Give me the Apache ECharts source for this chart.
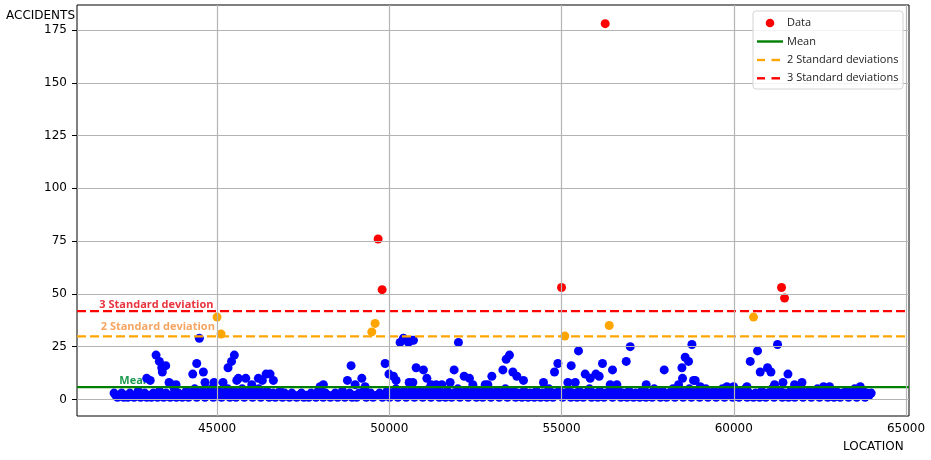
<!DOCTYPE html>
<html><head><meta charset="utf-8">
<script src="https://cdn.jsdelivr.net/npm/echarts@6/dist/echarts.min.js"></script>
<style>html,body{margin:0;padding:0;background:#fff}#c{width:931px;height:460px}</style>
</head><body><div id="c"></div>
<script>
// ---- axis settings ----
const xTicks = [45000, 50000, 55000, 60000, 65000];
const yTicks = [0, 25, 50, 75, 100, 125, 150, 175];
const xRange = [40934, 65087];
const yRange = [-7.85, 186.85];

// ---- statistics ----
const meanValue = 5.85;
const twoSD = 29.85;
const threeSD = 41.85;

// ---- data: [LOCATION, ACCIDENTS] ----
const redPoints = [[49675,76],[49792,52],[55000,53],[56268,178],[61387,53],[61474,48]];
const orangePoints = [[45000,39],[45116,31],[49492,32],[49588,36],[55097,30],[56384,35],[60574,39]];
const blueHigh = [
[44486,29],[43229,21],[43324,18],[43394,15],[43510,16],[43411,13],[44410,17],[44294,12],[44602,13],
[45502,21],[45421,18],[45319,15],[42958,10],[43060,9],[43606,8],[43685,7],[43809,7],[44651,8],[44913,8],
[45174,8],[45619,10],[45572,9],[45833,10],[46008,7],[46199,10],[46315,9],[46423,12],[46539,12],[46635,9],
[47991,6],[48087,7],[48784,9],[48891,16],[49008,7],[49202,10],[49298,6],[49879,17],[49990,12],[50120,11],
[50198,9],[50314,27],[50410,29],[50555,27],[50630,28],[50701,28],[50576,8],[50683,8],[50779,15],[50991,14],
[51090,10],[51214,7],[51360,7],[51525,7],[51766,8],[51882,14],[52007,27],[52173,11],[52327,10],[52425,7],
[52783,7],[52861,7],[52977,11],[53297,14],[53393,19],[53489,21],[53587,13],[53703,11],[53895,9],[54476,8],
[54796,13],[54894,17],[55184,8],[55281,16],[55397,8],[55492,23],[55687,12],[55832,10],[55997,12],[56093,11],
[56189,17],[56413,7],[56480,14],[56607,7],[56878,18],[56994,25],[57458,7],[57981,14],[58397,7],[58495,15],
[58512,10],[58590,20],[58687,18],[58785,26],[58832,9],[58881,9],[59026,6],[59802,6],[59995,6],[60383,6],
[60478,18],[60690,23],[60768,13],[60980,15],[61079,13],[61184,7],[61271,26],[61428,8],[61573,12],[61765,7],
[61980,8],[62607,6],[62782,6],[63673,6]
];
const blueLow = [
[42010,3],[42060,2],[42110,1],[42170,2],[42230,3],[42290,1],[42350,2],[42410,1],[42470,3],[42530,2],[42590,1],[42650,2],[42710,4],[42780,1],[42840,2],[42900,3],[42960,1],
[43030,2],[43090,1],[43150,3],[43210,2],[43270,1],[43330,4],[43390,2],[43450,1],[43520,3],[43580,2],[43640,1],[43700,2],[43760,5],[43820,1],[43880,3],[43940,2],[43990,1],
[44050,2],[44110,4],[44170,1],[44230,3],[44290,2],[44350,5],[44410,1],[44470,3],[44530,2],[44590,4],[44650,1],[44710,3],[44770,2],[44830,5],[44890,1],[44950,3],
[45010,2],[45070,4],[45130,1],[45190,3],[45250,2],[45310,5],[45370,1],[45430,2],[45490,4],[45550,1],[45610,3],[45670,2],[45730,5],[45790,1],[45850,3],[45910,2],[45970,4],
[46030,1],[46090,3],[46150,2],[46210,5],[46270,1],[46330,3],[46390,2],[46450,4],[46510,1],[46570,2],[46630,3],[46690,1],[46760,2],[46830,4],[46900,1],[46960,3],
[47030,2],[47100,1],[47170,3],[47240,2],[47310,1],[47380,2],[47450,3],[47520,1],[47590,2],[47660,1],[47730,3],[47800,2],[47870,1],[47940,4],
[48010,2],[48080,1],[48150,3],[48220,2],[48290,1],[48360,2],[48430,3],[48500,1],[48570,2],[48640,4],[48710,1],[48780,2],[48850,3],[48920,1],[48980,2],
[49050,1],[49120,3],[49190,2],[49260,4],[49330,1],[49400,2],[49460,3],[49530,1],[49640,2],[49720,3],[49800,1],[49870,2],[49940,4],
[50010,1],[50070,3],[50130,2],[50190,5],[50250,1],[50310,3],[50370,2],[50430,4],[50490,1],[50550,3],[50610,2],[50670,5],[50730,1],[50790,3],[50850,2],[50910,4],[50970,1],
[51030,3],[51090,2],[51150,5],[51210,1],[51270,3],[51330,2],[51390,4],[51450,1],[51510,3],[51570,2],[51630,1],[51690,4],[51750,2],[51810,1],[51870,3],[51930,2],[51990,5],
[52050,1],[52110,3],[52170,2],[52230,4],[52290,1],[52350,3],[52410,2],[52470,5],[52530,1],[52590,2],[52650,4],[52710,1],[52770,3],[52830,2],[52890,5],[52950,1],
[53010,3],[53070,2],[53130,4],[53190,1],[53250,3],[53310,2],[53370,5],[53430,1],[53490,3],[53550,2],[53610,4],[53670,1],[53730,3],[53790,2],[53850,1],[53910,4],[53970,2],
[54030,1],[54090,3],[54150,2],[54210,1],[54270,4],[54330,2],[54390,1],[54450,3],[54510,2],[54570,1],[54630,5],[54690,2],[54750,1],[54810,3],[54870,2],[54940,4],
[55030,1],[55090,3],[55150,2],[55210,4],[55270,1],[55330,3],[55390,2],[55450,1],[55510,4],[55570,2],[55630,1],[55690,3],[55750,2],[55810,5],[55870,1],[55930,3],[55990,2],
[56050,1],[56110,4],[56170,2],[56230,1],[56290,3],[56350,2],[56420,5],[56480,1],[56540,3],[56600,2],[56660,4],[56720,1],[56780,3],[56840,2],[56900,1],[56960,4],
[57030,2],[57090,1],[57150,3],[57210,2],[57270,1],[57330,4],[57390,2],[57450,1],[57510,3],[57570,2],[57630,1],[57690,5],[57750,2],[57810,3],[57870,1],[57930,4],[57990,2],
[58050,1],[58110,3],[58170,2],[58230,5],[58290,1],[58350,3],[58410,2],[58470,4],[58530,1],[58590,3],[58650,2],[58710,5],[58770,1],[58830,3],[58890,2],[58950,4],
[59010,1],[59070,3],[59130,2],[59190,5],[59250,1],[59310,3],[59370,2],[59430,4],[59490,1],[59550,3],[59610,2],[59670,5],[59730,1],[59790,3],[59850,2],[59910,4],[59970,1],
[60030,3],[60090,2],[60150,1],[60210,4],[60270,2],[60330,5],[60390,1],[60450,3],[60510,2],[60570,1],[60630,3],[60690,2],[60750,1],[60810,4],[60870,2],[60930,1],[60990,3],
[61050,2],[61110,5],[61170,1],[61230,3],[61290,2],[61350,4],[61410,1],[61470,3],[61530,2],[61590,1],[61650,4],[61710,2],[61770,1],[61830,3],[61890,2],[61950,5],
[62010,1],[62070,3],[62130,2],[62190,4],[62250,1],[62310,3],[62370,2],[62430,5],[62490,1],[62550,3],[62610,2],[62670,4],[62730,1],[62790,3],[62850,2],[62910,1],[62970,4],
[63030,2],[63090,1],[63150,3],[63210,2],[63270,4],[63330,1],[63390,3],[63450,2],[63510,5],[63570,1],[63630,3],[63690,2],[63750,4],[63810,1],[63870,3],[63930,2],[63990,3]
];

// ---- annotation texts ----
const lineLabels = [
  {text: '3 Standard deviation', at: [41582, 44.9], color: '#e8343f'},
  {text: '2 Standard deviation', at: [41623, 34.2], color: '#f5a561'},
  {text: 'Mean', at: [42163, 8.9], color: '#1f9a50'}
];
const legendItems = ['Data', 'Mean', '2 Standard deviations', '3 Standard deviations'];

const chart = echarts.init(document.getElementById('c'), null, {renderer: 'canvas'});
const tickFont = {fontFamily: 'DejaVu Sans', fontSize: 12, color: '#000'};
const markerSize = 9;
const gridColor = '#b4b4b4';

function hLine(name, value, color, dashed) {
  return {
    name: name, type: 'line', silent: true, symbol: 'none', z: 4,
    data: [[xRange[0], value], [xRange[1], value]],
    lineStyle: {color: color, width: 2.4, type: dashed ? [9, 4] : 'solid'}
  };
}
function dots(name, color, data) {
  return {name: name, type: 'scatter', symbolSize: markerSize, z: 2, silent: true,
    itemStyle: {color: color, opacity: 1}, data: data};
}

chart.setOption({
  animation: false,
  grid: {left: 77, right: 22, top: 5, bottom: 44, show: true, borderColor: '#000', borderWidth: 1, backgroundColor: 'rgba(0,0,0,0)'},
  xAxis: {
    type: 'value', min: xRange[0], max: xRange[1],
    axisLine: {show: false},
    axisTick: {show: true, customValues: xTicks, length: 5, lineStyle: {color: '#000', width: 1}},
    axisLabel: Object.assign({customValues: xTicks, margin: 7, formatter: v => String(v)}, tickFont),
    splitLine: {show: false}
  },
  yAxis: {
    type: 'value', min: yRange[0], max: yRange[1],
    axisLine: {show: false},
    axisTick: {show: true, customValues: yTicks, length: 5, lineStyle: {color: '#000', width: 1}},
    axisLabel: Object.assign({customValues: yTicks, margin: 10, formatter: v => String(v)}, tickFont),
    splitLine: {show: false}
  },
  series: [
    dots('Data', '#0000ff', blueLow.concat(blueHigh)),
    dots('orange', '#ffa500', orangePoints),
    dots('red', '#ff0000', redPoints),
    {type: 'scatter', silent: true, z: 3, data: [], symbolSize: 0,
     markLine: {silent: true, symbol: 'none', label: {show: false}, animation: false,
       lineStyle: {color: gridColor, width: 1.2, type: 'solid'},
       data: xTicks.map(v => ({xAxis: v})).concat(yTicks.map(v => ({yAxis: v})))}},
    hLine('Mean', meanValue, '#008000', false),
    hLine('2 Standard deviations', twoSD, '#ffa500', true),
    hLine('3 Standard deviations', threeSD, '#ff0000', true)
  ]
});

// ---- overlay: axis names, line labels, legend ----
const g = [];
g.push({type: 'text', x: 6, y: 16, z: 50, style: {text: 'ACCIDENTS', font: '12px "DejaVu Sans"', fill: '#000', verticalAlign: 'middle', textVerticalAlign: 'middle'}});
g.push({type: 'text', x: 843, y: 447, z: 50, style: {text: 'LOCATION', font: '12px "DejaVu Sans"', fill: '#000', verticalAlign: 'middle', textVerticalAlign: 'middle'}});
lineLabels.forEach(l => {
  const p = chart.convertToPixel({gridIndex: 0}, l.at);
  g.push({type: 'text', x: p[0], y: p[1], z: 1, style: {text: l.text, font: 'bold 11px "Open Sans"', fill: l.color, verticalAlign: 'middle', textVerticalAlign: 'middle'}});
});
// legend box
g.push({type: 'rect', z: 100, shape: {x: 753, y: 11, width: 150, height: 78, r: 3}, style: {fill: 'rgba(255,255,255,0.85)', stroke: '#d4d4d4', lineWidth: 1}});
const rowsY = [23, 41.5, 60, 78.3];
g.push({type: 'circle', z: 101, shape: {cx: 770, cy: rowsY[0], r: 4.3}, style: {fill: '#ff0000'}});
g.push({type: 'line', z: 101, shape: {x1: 757, y1: rowsY[1], x2: 783, y2: rowsY[1]}, style: {stroke: '#008000', lineWidth: 2.4}});
[[2, '#ffa500'], [3, '#ff0000']].forEach(([i, c]) => {
  g.push({type: 'line', z: 101, shape: {x1: 757, y1: rowsY[i], x2: 765, y2: rowsY[i]}, style: {stroke: c, lineWidth: 2.4}});
  g.push({type: 'line', z: 101, shape: {x1: 771.5, y1: rowsY[i], x2: 780, y2: rowsY[i]}, style: {stroke: c, lineWidth: 2.4}});
});
legendItems.forEach((t, i) => {
  g.push({type: 'text', z: 101, x: 787, y: rowsY[i], style: {text: t, font: '11px "Open Sans"', fill: '#222', verticalAlign: 'middle', textVerticalAlign: 'middle'}});
});
chart.setOption({graphic: g});
</script>
</body></html>
